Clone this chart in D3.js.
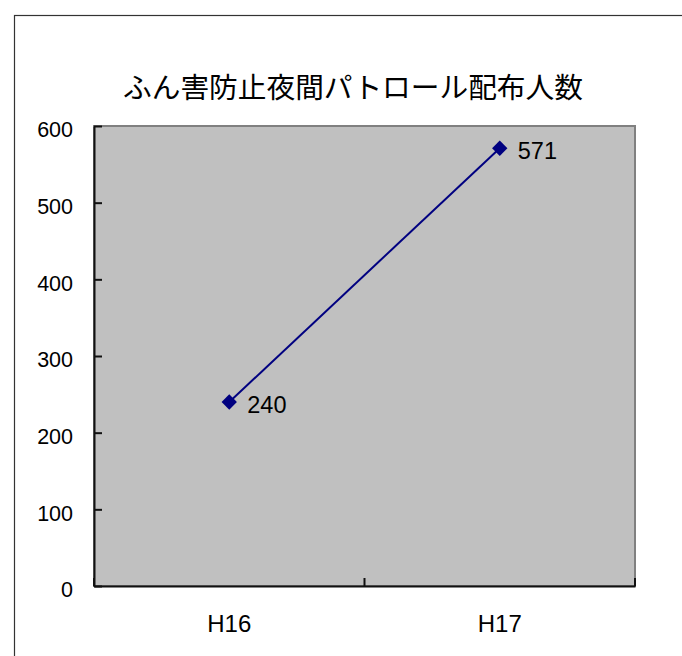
<!DOCTYPE html>
<html>
<head>
<meta charset="utf-8">
<script src="https://cdn.jsdelivr.net/npm/d3@7"></script>
<style>
  body { margin: 0; background: #fff; }
  text { font-family: "Liberation Sans", Arial, sans-serif; fill: #000; }
  .title { font-family: "Noto Sans CJK JP", sans-serif; }
</style>
</head>
<body>
<div id="chart"></div>
<script>
// datos
const categories = ['H16', 'H17'];
const values = [240, 571];
const yTicks = [0, 100, 200, 300, 400, 500, 600];
const title = 'ふん害防止夜間パトロール配布人数';

const W = 682, H = 656;
const m = { left: 94, top: 126, right: 635, bottom: 586 };

const svg = d3.select('#chart').append('svg')
  .attr('width', W).attr('height', H);

// marco exterior (se sale por la derecha y abajo)
svg.append('rect')
  .attr('x', 14.5).attr('y', 15.5)
  .attr('width', 720).attr('height', 720)
  .attr('fill', '#fff').attr('stroke', '#333').attr('stroke-width', 1.2);

const x = d3.scaleBand().domain(categories).range([m.left, m.right]);
const y = d3.scaleLinear().domain([0, 600]).range([m.bottom, m.top]);

// area de trazado
svg.append('rect')
  .attr('x', m.left).attr('y', m.top)
  .attr('width', m.right - m.left).attr('height', m.bottom - m.top)
  .attr('fill', '#c0c0c0').attr('stroke', '#808080').attr('stroke-width', 2);

// eje Y, ticks hacia dentro
const yAxis = svg.append('g')
  .attr('transform', `translate(${m.left},0)`)
  .call(d3.axisLeft(y).tickValues(yTicks).tickSizeInner(-8).tickSizeOuter(0).tickPadding(21));
yAxis.select('.domain').attr('stroke', '#111').attr('stroke-width', 2);
yAxis.selectAll('.tick line').attr('stroke', '#111').attr('stroke-width', 2);
yAxis.selectAll('text').style('font-size', '21.5px').attr('dy', '0.5em');

// eje X
const xAxis = svg.append('g')
  .attr('transform', `translate(0,${m.bottom})`)
  .call(d3.axisBottom(x).tickSize(0).tickPadding(29));
xAxis.select('.domain').attr('stroke', '#111').attr('stroke-width', 2);
xAxis.selectAll('text').style('font-size', '24px');
// marcas entre categorias
const xt = [m.left, m.left + x.step(), m.right];
svg.append('g').selectAll('line').data(xt).join('line')
  .attr('x1', d => d).attr('x2', d => d)
  .attr('y1', m.bottom).attr('y2', m.bottom - 8)
  .attr('stroke', '#111').attr('stroke-width', 2);

// linea
const line = d3.line()
  .x((d, i) => x(categories[i]) + x.bandwidth() / 2)
  .y(d => y(d));
svg.append('path').datum(values)
  .attr('d', line).attr('fill', 'none')
  .attr('stroke', '#000080').attr('stroke-width', 2);

// marcadores rombo
const sym = d3.symbol().type(d3.symbolDiamond2).size(150);
svg.append('g').selectAll('path').data(values).join('path')
  .attr('d', sym)
  .attr('transform', (d, i) => `translate(${x(categories[i]) + x.bandwidth() / 2},${y(d)})`)
  .attr('fill', '#000080');

// etiquetas de datos
svg.append('g').selectAll('text').data(values).join('text')
  .attr('x', (d, i) => x(categories[i]) + x.bandwidth() / 2 + 18)
  .attr('y', d => y(d) + 11)
  .style('font-size', '23.5px')
  .text(d => d);

// titulo
svg.append('text').attr('class', 'title')
  .attr('x', 353).attr('y', 98)
  .attr('text-anchor', 'middle')
  .style('font-size', '28.7px')
  .text(title);
</script>
</body>
</html>
